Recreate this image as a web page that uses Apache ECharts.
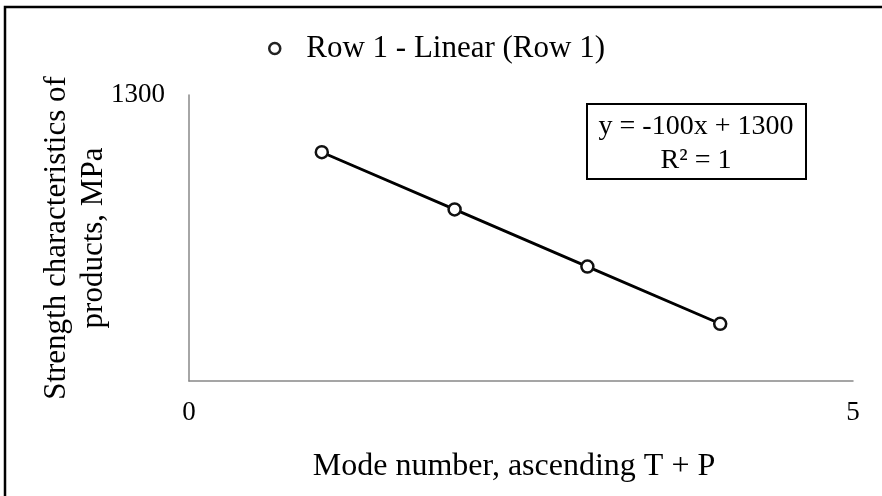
<!DOCTYPE html>
<html>
<head>
<meta charset="utf-8">
<script src="https://cdn.jsdelivr.net/npm/echarts@6/dist/echarts.min.js"></script>
<style>
html,body{margin:0;padding:0;background:#fff;}
#c{width:882px;height:496px;}
</style>
</head>
<body>
<div id="c"></div>
<script>
const modeNumbers = [1, 2, 3, 4];
const strengthValues = [1200, 1100, 1000, 900];
const xTickLabels = ['0', '5'];
const yTickLabels = ['1300'];
const seriesName = 'Row 1 - Linear (Row 1)';
const equationText = 'y = -100x + 1300';
const r2Text = 'R² = 1';

const FONT = '"Liberation Serif", "Times New Roman", serif';
const chart = echarts.init(document.getElementById('c'));
const points = modeNumbers.map((x, i) => [x, strengthValues[i]]);

chart.setOption({
  animation: false,
  backgroundColor: '#fff',
  grid: { left: 189, right: 29, top: 95, bottom: 115 },
  legend: {
    data: [{ name: seriesName, icon: 'circle', itemStyle: { color: '#fff', borderColor: '#222', borderWidth: 2.5 } }],
    top: 28,
    left: 263,
    itemWidth: 11,
    itemHeight: 11,
    itemGap: 8,
    textStyle: { fontFamily: FONT, fontSize: 31, color: '#000', padding: [0, 0, 0, 21] }
  },
  xAxis: {
    type: 'value',
    min: 0, max: 5, interval: 5,
    name: 'Mode number, ascending T + P',
    nameLocation: 'middle',
    nameGap: 70,
    nameMoveOverlap: false,
    nameTextStyle: { fontFamily: FONT, fontSize: 32, color: '#000', padding: [0, 14, 0, 0] },
    axisLine: { lineStyle: { color: '#888', width: 1.5 } },
    axisTick: { show: false },
    splitLine: { show: false },
    axisLabel: {
      margin: 18,
      fontFamily: FONT, fontSize: 27, color: '#000',
      formatter: v => xTickLabels.includes(String(v)) ? String(v) : ''
    }
  },
  yAxis: {
    type: 'value',
    min: 800, max: 1300, interval: 100,
    name: 'Strength characteristics of\nproducts, MPa',
    nameLocation: 'middle',
    nameGap: 77,
    nameMoveOverlap: false,
    nameRotate: 90,
    nameTextStyle: { fontFamily: FONT, fontSize: 31, color: '#000', lineHeight: 37 },
    axisLine: { show: true, lineStyle: { color: '#888', width: 1.5 } },
    axisTick: { show: false },
    splitLine: { show: false },
    axisLabel: {
      margin: 24,
      fontFamily: FONT, fontSize: 27, color: '#000',
      formatter: v => yTickLabels.includes(String(v)) ? String(v) : ''
    }
  },
  series: [{
    name: seriesName,
    type: 'line',
    data: points,
    symbol: 'circle',
    symbolSize: 12,
    lineStyle: { color: '#000', width: 2.8 },
    itemStyle: { color: '#fff', borderColor: '#111', borderWidth: 2.5 },
    z: 3
  }],
  graphic: [
    {
      type: 'rect',
      shape: { x: 5, y: 7, width: 900, height: 520 },
      style: { fill: 'none', stroke: '#000', lineWidth: 2.5 },
      silent: true
    },
    {
      type: 'rect',
      shape: { x: 587, y: 104, width: 219, height: 75 },
      style: { fill: '#fff', stroke: '#000', lineWidth: 2 },
      z: 10
    },
    {
      type: 'text',
      x: 696, y: 127,
      style: { text: equationText, font: '28px ' + FONT, fill: '#000', align: 'center', verticalAlign: 'middle' },
      z: 11
    },
    {
      type: 'text',
      x: 696, y: 161,
      style: { text: r2Text, font: '28px ' + FONT, fill: '#000', align: 'center', verticalAlign: 'middle' },
      z: 11
    }
  ]
});
</script>
</body>
</html>
